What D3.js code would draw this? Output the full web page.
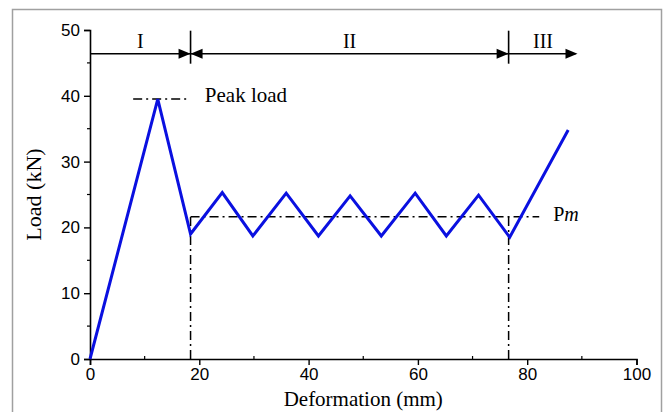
<!DOCTYPE html>
<html>
<head>
<meta charset="utf-8">
<script src="https://cdn.jsdelivr.net/npm/d3@7"></script>
<style>
  body { margin: 0; background: #fff; }
  svg { display: block; }
</style>
</head>
<body>
<div id="chart"></div>
<script>
// load-deformation curve
const deformation = [0, 12.4, 18.4, 24.2, 29.8, 35.9, 41.8, 47.6, 53.3, 59.5, 65.2, 71.1, 76.8, 87.5];
const load        = [0, 39.5, 19.0, 25.3, 18.7, 25.2, 18.7, 24.8, 18.7, 25.2, 18.7, 24.9, 18.5, 34.8];

// stage arrows on top
const stageBounds = [0, 18.4, 76.6, 89.2];
const stageNames  = ["I", "II", "III"];
const stageLoad   = 46.4;

// reference lines
const peakLoad  = 39.5;
const peakSpan  = [7.9, 17.9];
const meanLoad  = 21.6;         // Pm
const meanSpan  = [18.4, 82.2];
const dropLines = [18.4, 76.6];

const xTicks = [0, 20, 40, 60, 80, 100];
const yTicks = [0, 10, 20, 30, 40, 50];
const xMinor = [10, 30, 50, 70, 90];
const yMinor = [5, 15, 25, 35, 45];

const W = 663, H = 412;
const svg = d3.select("#chart").append("svg").attr("width", W).attr("height", H);

// grey frame round the figure
svg.append("rect")
  .attr("x", 12.5).attr("y", 9.5).attr("width", 649).attr("height", 420)
  .attr("fill", "none").attr("stroke", "#a0a0a0").attr("stroke-width", 1.5);

const x = d3.scaleLinear().domain([0, 100]).range([90, 636.5]);
const y = d3.scaleLinear().domain([0, 50]).range([359, 30]);

const serif = "'Liberation Serif', 'Times New Roman', serif";
const sans  = "'Liberation Sans', Arial, sans-serif";

// axes
const xAxis = svg.append("g").attr("transform", `translate(0,${y(0)})`)
  .call(d3.axisBottom(x).tickValues(xTicks).tickSize(6).tickPadding(3).tickFormat(d3.format("d")));
const yAxis = svg.append("g").attr("transform", `translate(${x(0)},0)`)
  .call(d3.axisLeft(y).tickValues(yTicks).tickSize(6).tickPadding(4).tickFormat(d3.format("d")));
[xAxis, yAxis].forEach(g => {
  g.select(".domain").attr("stroke", "#000").attr("stroke-width", 1.6);
  g.selectAll(".tick line").attr("stroke", "#000").attr("stroke-width", 1.4);
  g.selectAll(".tick text").attr("fill", "#000").style("font-family", sans).style("font-size", "17px");
});

// minor ticks
svg.append("g").selectAll("line").data(xMinor).join("line")
  .attr("x1", d => x(d)).attr("x2", d => x(d))
  .attr("y1", y(0)).attr("y2", y(0) - 3)
  .attr("stroke", "#000").attr("stroke-width", 1.2);
svg.append("g").selectAll("line").data(yMinor).join("line")
  .attr("x1", x(0)).attr("x2", x(0) - 3)
  .attr("y1", d => y(d)).attr("y2", d => y(d))
  .attr("stroke", "#000").attr("stroke-width", 1.2);

// axis titles
svg.append("text")
  .attr("x", (x(0) + x(100)) / 2).attr("y", 406)
  .attr("text-anchor", "middle")
  .style("font-family", serif).style("font-size", "21px")
  .text("Deformation (mm)");
svg.append("text")
  .attr("transform", `translate(41,${y(25)}) rotate(-90)`)
  .attr("text-anchor", "middle")
  .style("font-family", serif).style("font-size", "22px")
  .text("Load (kN)");

// dash-dot guides
const dashDot = "9,4,2,4";
const guides = svg.append("g").attr("stroke", "#000").attr("stroke-width", 1.5)
  .attr("stroke-dasharray", dashDot).attr("fill", "none");
guides.append("line")
  .attr("x1", x(peakSpan[0])).attr("x2", x(peakSpan[1]))
  .attr("y1", y(peakLoad)).attr("y2", y(peakLoad));
guides.append("line")
  .attr("x1", x(meanSpan[0])).attr("x2", x(meanSpan[1]))
  .attr("y1", y(meanLoad)).attr("y2", y(meanLoad));
guides.selectAll(".drop").data(dropLines).join("line")
  .attr("class", "drop")
  .attr("x1", d => x(d)).attr("x2", d => x(d))
  .attr("y1", y(0)).attr("y2", y(meanLoad));

svg.append("text")
  .attr("x", x(peakSpan[1]) + 17).attr("y", y(peakLoad) + 3)
  .style("font-family", serif).style("font-size", "21px")
  .text("Peak load");
const pm = svg.append("text")
  .attr("x", x(meanSpan[1]) + 14).attr("y", y(meanLoad) + 4)
  .style("font-family", serif).style("font-size", "20px");
pm.append("tspan").text("P");
pm.append("tspan").style("font-style", "italic").text("m");

// blue curve
const pts = deformation.map((d, i) => [d, load[i]]);
svg.append("path")
  .datum(pts)
  .attr("fill", "none").attr("stroke", "#0a10e0").attr("stroke-width", 3)
  .attr("stroke-linejoin", "miter")
  .attr("d", d3.line().x(d => x(d[0])).y(d => y(d[1])));

// stage arrows
const ay = y(stageLoad);
const arr = svg.append("g");
arr.append("line")
  .attr("x1", x(stageBounds[0])).attr("x2", x(stageBounds[3]) - 2)
  .attr("y1", ay).attr("y2", ay)
  .attr("stroke", "#000").attr("stroke-width", 1.5);
// dividers
arr.selectAll(".div").data(stageBounds.slice(1, 3)).join("line")
  .attr("class", "div")
  .attr("x1", d => x(d)).attr("x2", d => x(d))
  .attr("y1", ay - 23).attr("y2", ay + 10)
  .attr("stroke", "#000").attr("stroke-width", 1.6);
// heads: [tip position, direction]
const heads = [
  [stageBounds[1], 1], [stageBounds[1], -1],
  [stageBounds[2], 1], [stageBounds[3], 1]
];
arr.selectAll(".head").data(heads).join("path")
  .attr("class", "head")
  .attr("d", d => {
    const tx = x(d[0]), s = d[1];
    return `M${tx},${ay} L${tx - s * 12},${ay - 5} L${tx - s * 12},${ay + 5} Z`;
  })
  .attr("fill", "#000");
arr.selectAll(".lab").data(stageNames).join("text")
  .attr("class", "lab")
  .attr("x", (d, i) => (x(stageBounds[i]) + x(stageBounds[i + 1])) / 2)
  .attr("y", ay - 6)
  .attr("text-anchor", "middle")
  .style("font-family", serif).style("font-size", "20px")
  .text(d => d);
</script>
</body>
</html>
